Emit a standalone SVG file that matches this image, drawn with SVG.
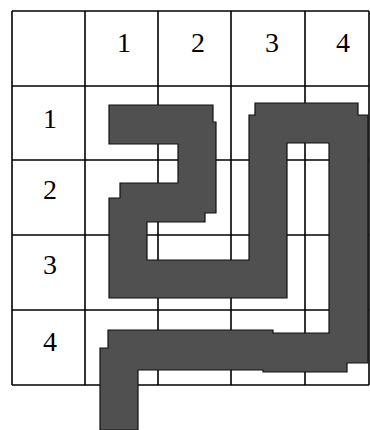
<svg xmlns="http://www.w3.org/2000/svg" width="370" height="430" viewBox="0 0 370 430">
<style>
.grid line{stroke:#000;stroke-width:1.6}
.lbl{font-family:"Liberation Serif","Times New Roman",serif;font-size:28px;fill:#000;text-anchor:middle}
.path{fill:#505050;stroke:#111;stroke-width:1.2;stroke-linejoin:miter}
</style>
<rect width="370" height="430" fill="#fff"/>
<g id="grid" class="grid">
<line x1="12" y1="11" x2="369" y2="11"/>
<line x1="12" y1="86" x2="369" y2="86"/>
<line x1="12" y1="160" x2="369" y2="160"/>
<line x1="12" y1="235" x2="369" y2="235"/>
<line x1="12" y1="310" x2="369" y2="310"/>
<line x1="12" y1="385" x2="369" y2="385"/>
<line x1="12" y1="11" x2="12" y2="385"/>
<line x1="85" y1="11" x2="85" y2="385"/>
<line x1="158" y1="11" x2="158" y2="385"/>
<line x1="231" y1="11" x2="231" y2="385"/>
<line x1="305" y1="11" x2="305" y2="385"/>
<line x1="369" y1="11" x2="369" y2="385"/>
</g>
<g id="labels">
<text class="lbl" x="124" y="52">1</text>
<text class="lbl" x="198" y="52">2</text>
<text class="lbl" x="272" y="52">3</text>
<text class="lbl" x="343" y="52">4</text>
<text class="lbl" x="50" y="128">1</text>
<text class="lbl" x="50" y="199">2</text>
<text class="lbl" x="50" y="274">3</text>
<text class="lbl" x="50" y="351">4</text>
</g>
<g id="route">
<polygon class="path" points="109,105 213,105 213,122 216,122 216,213 205,213 205,222 147,222 147,260 249,260 249,115 255,115 255,103 358,103 358,115 368,115 368,363 347,363 347,372 263,372 263,370 138,370 138,430 100,430 100,348 108,348 108,330 273,330 273,333 329,333 329,143 287,143 287,298 109,298 109,198 120,198 120,183 178,183 178,144 109,144"/>
</g>
</svg>
